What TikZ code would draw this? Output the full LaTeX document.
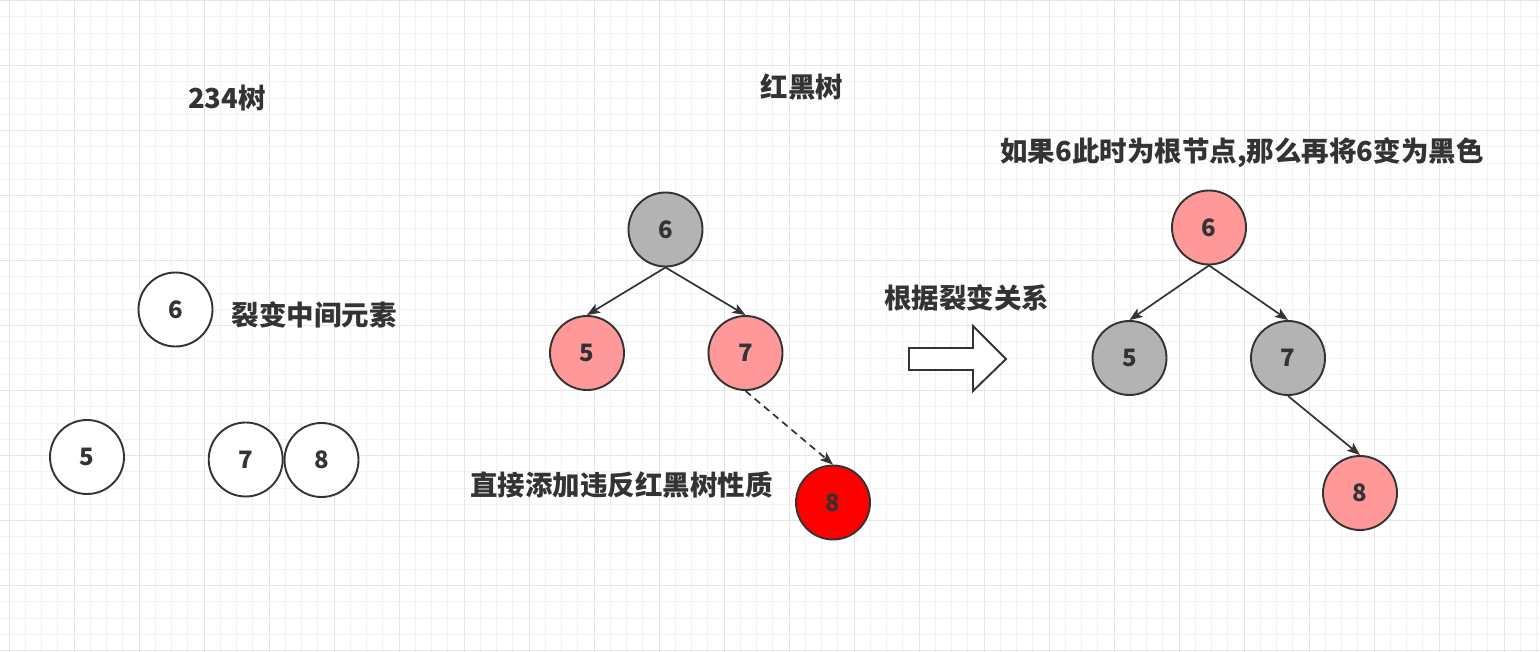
\documentclass[tikz,border=0pt]{standalone}
\usepackage{fontspec}
\newfontfamily\cjk{Noto Sans CJK SC}
\usetikzlibrary{arrows.meta}
\definecolor{pinkc}{HTML}{FF9999}
\definecolor{grayc}{HTML}{B3B3B3}
\definecolor{redc}{HTML}{FF0000}
\definecolor{strokec}{HTML}{333333}
\definecolor{textc}{HTML}{333333}
\definecolor{gridminor}{RGB}{242,242,242}
\definecolor{gridmajor}{RGB}{230,230,230}
\tikzset{
  tn/.style={circle, draw=strokec, line width=1.9pt, minimum size=74pt, inner sep=0pt,
    font=\cjk\bfseries\fontsize{24}{24}\selectfont, text=textc},
  lbl/.style={inner sep=0pt, text=textc, font=\cjk\bfseries\fontsize{27.5}{28}\selectfont},
  edge/.style={draw=strokec, line width=1.7pt, -{Stealth[length=13pt,width=10pt,inset=3pt]}},
}
\begin{document}
\begin{tikzpicture}[x=1pt,y=-1pt]
\useasboundingbox (0,0) rectangle (1540,652);
\fill[white] (0,0) rectangle (1540,652);
% grid
\foreach \k in {-1,...,94} {
  \draw[gridminor, line width=1pt] ({9+16.25*\k},0) -- ({9+16.25*\k},652);
}
\foreach \k in {0,...,40} {
  \draw[gridminor, line width=1pt] (0,{0.7+16.25*\k}) -- (1540,{0.7+16.25*\k});
}
\foreach \k in {0,...,23} {
  \draw[gridmajor, line width=1pt] ({9+65*\k},0) -- ({9+65*\k},652);
}
\foreach \k in {0,...,10} {
  \draw[gridmajor, line width=1pt] (0,{0.7+65*\k}) -- (1540,{0.7+65*\k});
}
% titles
\node[lbl] (t234) at (227,98) {234树};
\node[lbl] (trb) at (802,87) {红黑树};
\node[lbl] (troot) at (1242,153) {如果6此时为根节点,那么再将6变为黑色};
\node[lbl] (tsplit) at (314,315) {裂变中间元素};
\node[lbl] (tadd) at (621.5,485) {直接添加违反红黑树性质};
\node[lbl] (trel) at (966.5,298) {根据裂变关系};
% 234 tree
\node[tn, fill=white] (l6) at (175.5,309.5) {6};
\node[tn, fill=white] (l5) at (87,457) {5};
\node[tn, fill=white] (l7) at (245.7,459.5) {7};
\node[tn, fill=white] (l8) at (321.5,460) {8};
% red-black tree (middle)
\node[tn, fill=grayc] (m6) at (665.5,229.5) {6};
\node[tn, fill=pinkc] (m5) at (587,353) {5};
\node[tn, fill=pinkc] (m7) at (745.5,353) {7};
\node[tn, fill=redc] (m8) at (833,502.5) {8};
\draw[edge] (m6.south) -- (m5.north);
\draw[edge] (m6.south) -- (m7.north);
\draw[edge, dashed, dash pattern=on 7pt off 5pt] (m7.south) -- (m8.north);
% block arrow
\draw[strokec, line width=1.9pt, fill=white, line join=miter]
  (909,348) -- (973,348) -- (973,326) -- (1006,359) -- (973,391) -- (973,370) -- (909,370) -- cycle;
% right tree
\node[tn, fill=pinkc] (r6) at (1209,227.5) {6};
\node[tn, fill=grayc] (r5) at (1129.5,358) {5};
\node[tn, fill=grayc] (r7) at (1288,358) {7};
\node[tn, fill=pinkc] (r8) at (1360,493) {8};
\draw[edge] (r6.south) -- (r5.north);
\draw[edge] (r6.south) -- (r7.north);
\draw[edge] (r7.south) -- (r8.north);
\end{tikzpicture}
\end{document}
